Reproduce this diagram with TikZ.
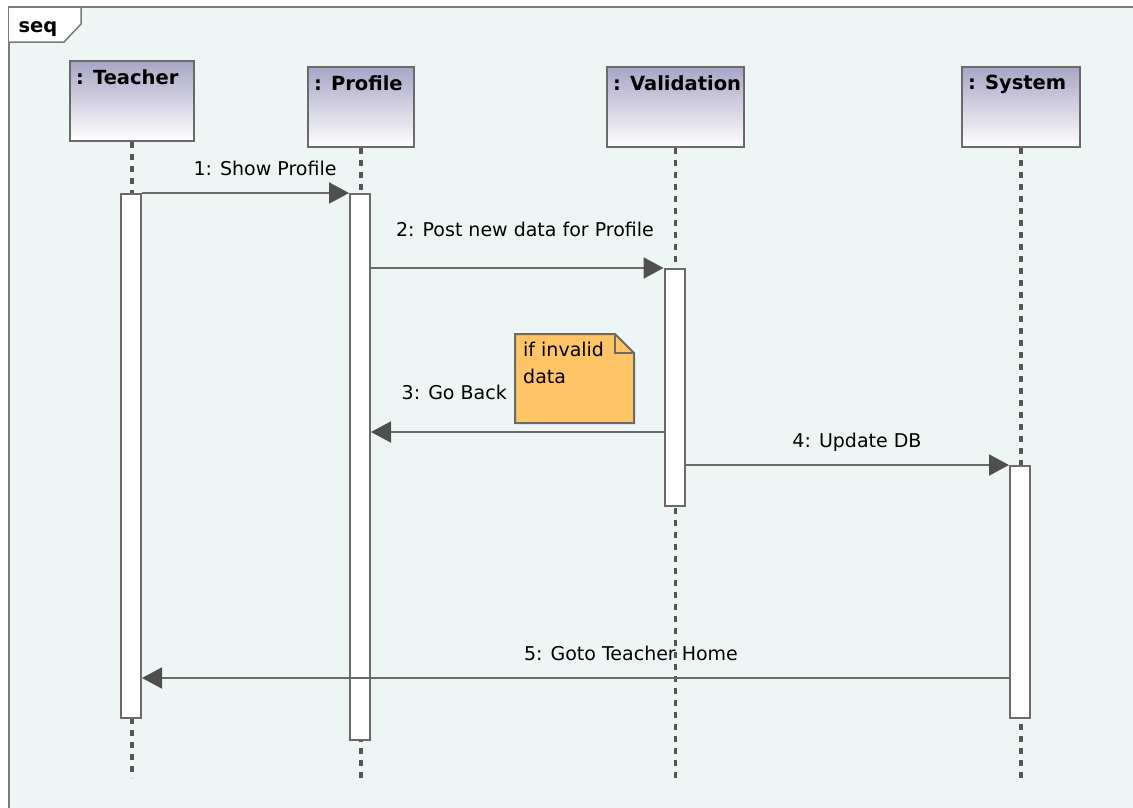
\documentclass[tikz,border=0pt]{standalone}
\usepackage{fontspec}
\setmainfont{DejaVu Sans}
\usetikzlibrary{arrows.meta}
\definecolor{bgcol}{HTML}{EEF6F5}
\definecolor{framecol}{HTML}{7A7A7A}
\definecolor{linecol}{HTML}{6A6A6A}
\definecolor{tipcol}{HTML}{4F4F4F}
\definecolor{headtop}{HTML}{A8A5C5}
\definecolor{notecol}{HTML}{FFC466}
\definecolor{dotcol}{HTML}{555555}

\begin{document}
\begin{tikzpicture}[x=1pt,y=-1pt]
\tikzstyle{every node}=[inner sep=0pt, font=\fontsize{19}{27}\selectfont]
\tikzstyle{headlbl}=[anchor=north west, xshift=7pt, yshift=-9pt, font=\fontsize{19.5}{23}\selectfont\bfseries]
\tikzstyle{head}=[draw=linecol, line width=2pt, top color=headtop, bottom color=white, minimum height=80pt, anchor=north west]
\tikzstyle{act}=[draw=linecol, line width=2pt, fill=white, minimum width=20pt, anchor=north]
\tikzstyle{life}=[dotcol, line width=3.5pt, dash pattern=on 5.5pt off 6.5pt]
\tikzstyle{msg}=[linecol, line width=2pt, -{Triangle[length=20pt, width=21pt, color=tipcol]}]
\tikzstyle{msglbl}=[anchor=base]
\useasboundingbox (0,0) rectangle (1133,807);
\fill[bgcol] (9,7) rectangle (1140,815);
\draw[framecol, line width=1.5pt] (1140,7) -- (9,7) -- (9,815);
\draw[framecol, line width=1.5pt, fill=white] (9,7) -- (81,7) -- (81,24) -- (64,42) -- (9,42);
\draw (38,32) node (seq) [anchor=base, font=\fontsize{19.5}{23}\selectfont\bfseries] {seq};
\draw (69,60) node (teacher) [head, minimum width=124pt, label={[headlbl]north west:{: Teacher}}] {};
\draw (307,66) node (profile) [head, minimum width=106pt, label={[headlbl]north west:{: Profile}}] {};
\draw (606,66) node (valid) [head, minimum width=137pt, label={[headlbl]north west:{: Validation}}] {};
\draw (961,66) node (system) [head, minimum width=118pt, label={[headlbl]north west:{: System}}] {};
\draw (265,175) node (m1) [msglbl] {1: Show Profile};
\draw (525,236) node (m2) [msglbl] {2: Post new data for Profile};
\draw (507,399) node (m3) [msglbl, anchor=base east] {3: Go Back};
\draw (857,447) node (m4) [msglbl] {4: Update DB};
\draw (631,660) node (m5) [msglbl] {5: Goto Teacher Home};
\draw[life] (teacher.south) -- (teacher.south |- 0,778);
\draw[life] (profile.south) -- (profile.south |- 0,778);
\draw[life] (valid.south) -- (valid.south |- 0,778);
\draw[life] (system.south) -- (system.south |- 0,778);
\draw (131,193) node (tact) [act, minimum height=524pt] {};
\draw (360,193) node (pact) [act, minimum height=546pt] {};
\draw (674.5,268) node (vact) [act, minimum height=237pt] {};
\draw (1020,465) node (sact) [act, minimum height=252pt] {};
\fill[notecol] (515,334) -- (615,334) -- (634,353) -- (634,423) -- (515,423) -- cycle;
\draw[linecol, line width=2pt] (515,334) -- (615,334) -- (634,353) -- (634,423) -- (515,423) -- cycle;
\draw[linecol, line width=1.5pt] (615,334) |- (634,353);
\draw (523,342) node (note) [anchor=north west, align=left] {if invalid\\data};
\draw[msg] (tact.north east) -- (pact.north west);
\draw[msg] (pact.east |- vact.north) -- (vact.north west);
\draw[msg] (vact.west |- 0,432) -- (pact.east |- 0,432);
\draw[msg] (vact.east |- sact.north) -- (sact.north west);
\draw[msg] (sact.west |- 0,678) -- (tact.east |- 0,678);
\end{tikzpicture}
\end{document}
